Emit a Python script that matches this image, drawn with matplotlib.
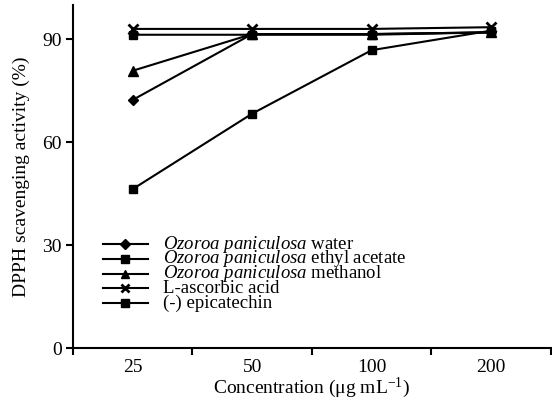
import matplotlib
matplotlib.use("Agg")
import matplotlib.pyplot as plt

plt.rcParams['font.family'] = ['Liberation Serif', 'DejaVu Serif']
plt.rcParams['mathtext.fontset'] = 'custom'
plt.rcParams['mathtext.rm'] = 'Liberation Serif'
plt.rcParams['mathtext.it'] = 'Liberation Serif:italic'

categories = ["25", "50", "100", "200"]
water = [72.3, 91.5, 91.5, 92.0]
ethyl_acetate = [46.3, 68.3, 86.8, 92.5]
methanol = [80.8, 91.5, 91.5, 92.0]
ascorbic = [93.0, 93.0, 93.0, 93.5]
epicatechin = [91.3, 91.3, 91.3, 92.0]

series = [
    (water, "D", r"$\it{Ozoroa\ paniculosa}$ water", 5.5),
    (ethyl_acetate, "s", r"$\it{Ozoroa\ paniculosa}$ ethyl acetate", 6),
    (methanol, "^", r"$\it{Ozoroa\ paniculosa}$ methanol", 7),
    (ascorbic, "x", "L-ascorbic acid", 6.5),
    (epicatechin, "s", "(-) epicatechin", 6),
]

fig = plt.figure(figsize=(5.52, 4.08), dpi=100)
ax = fig.add_axes([0.132, 0.147, 0.866, 0.841])
x = list(range(len(categories)))
for vals, mk, lab, ms in series:
    ax.plot(x, vals, color="black", lw=1.5, marker=mk, ms=ms,
            mew=2 if mk == "x" else 1, label=lab)

# legend drawn by hand so the rows can sit as tight as in the original
leg_top, leg_step = 0.303, 0.043
for i, (vals, mk, lab, ms) in enumerate(series):
    yy = leg_top - i * leg_step
    ax.plot([0.063, 0.157], [yy, yy], color="black", lw=1.5,
            transform=ax.transAxes, clip_on=False)
    ax.plot([0.11], [yy], color="black", marker=mk, ms=ms * 0.85,
            mew=2 if mk == "x" else 1, transform=ax.transAxes, clip_on=False)
    ax.text(0.188, yy, lab, fontsize=13.5, va="center", ha="left",
            transform=ax.transAxes)

ax.set_xlim(-0.5, 3.5)
ax.set_ylim(0, 100)
ax.set_yticks([0, 30, 60, 90])
ax.set_xticks(x)
ax.set_xticklabels(categories)
ax.set_xticks([-0.5, 0.5, 1.5, 2.5, 3.5], minor=True)
ax.tick_params(axis="x", which="major", length=0, labelsize=14, pad=8)
ax.tick_params(axis="x", which="minor", length=5, width=1.5, direction="out")
ax.tick_params(axis="y", length=5, width=1.5, labelsize=14, pad=3)
for s in ["top", "right"]:
    ax.spines[s].set_visible(False)
for s in ["left", "bottom"]:
    ax.spines[s].set_linewidth(1.5)

ax.set_xlabel(r"Concentration (μg mL$^{-1}$)", fontsize=14, labelpad=0)
ax.set_ylabel("DPPH scavenging activity (%)", fontsize=14, labelpad=9)

fig.savefig("out.png", dpi=100)
